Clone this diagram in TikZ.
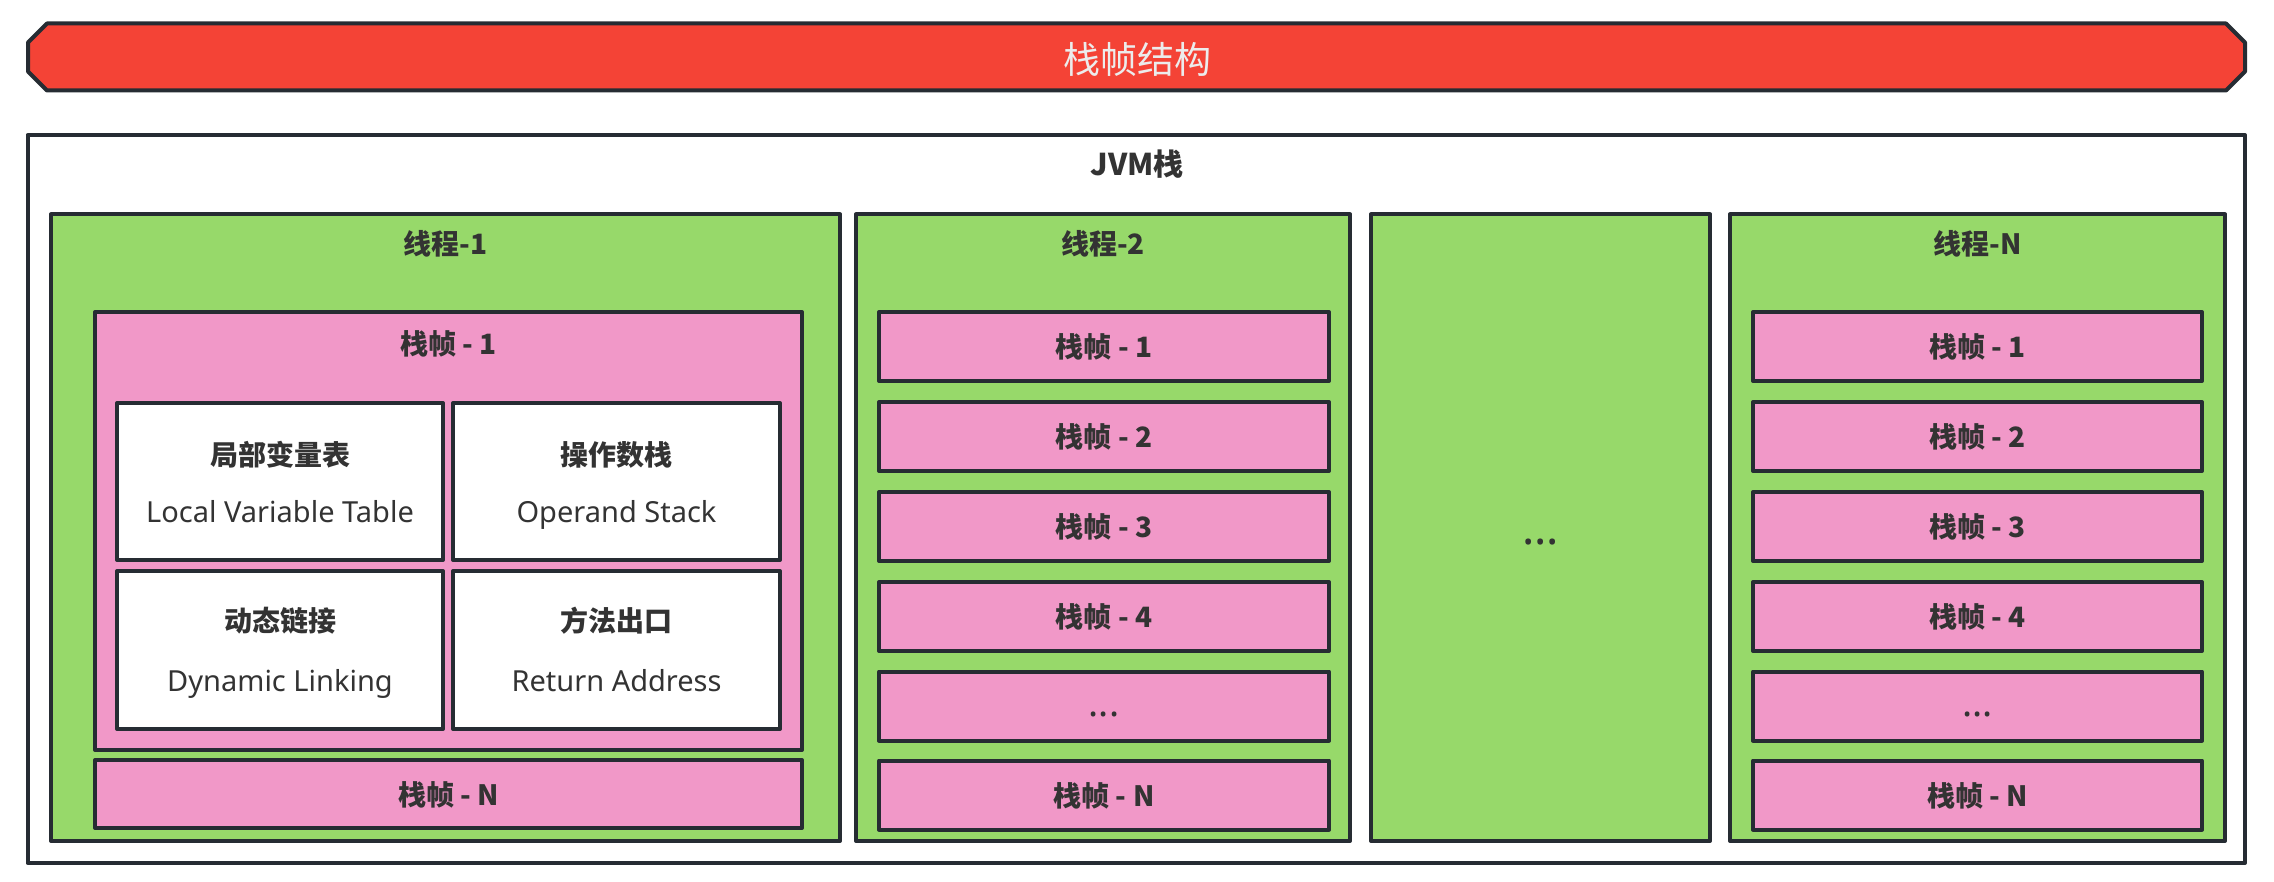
\documentclass[tikz,border=0pt]{standalone}
\usepackage{fontspec}
\setmainfont{Noto Sans CJK SC}
\newfontfamily\latfont{Noto Sans}
\definecolor{edge}{RGB}{38,44,51}
\definecolor{txt}{RGB}{51,51,51}
\definecolor{bannerred}{RGB}{244,67,54}
\definecolor{thrgreen}{RGB}{151,217,106}
\definecolor{frmpink}{RGB}{241,152,200}
\definecolor{titletxt}{RGB}{236,236,236}
\tikzset{
  boxbase/.style={draw=edge, line width=4pt, inner sep=0pt, outer sep=0pt, line join=round},
  jvmbox/.style={boxbase, fill=white},
  thrbox/.style={boxbase, fill=thrgreen},
  frmbox/.style={boxbase, fill=frmpink},
  cellbox/.style={boxbase, fill=white},
  lbl/.style={anchor=base, inner sep=0pt, text=txt, font=\bfseries\fontsize{28}{34}\selectfont},
  entxt/.style={anchor=base, inner sep=0pt, text=txt, font=\latfont\fontsize{29}{34}\selectfont},
  bigdots/.style={anchor=base, inner sep=0pt, text=txt, font=\latfont\bfseries\fontsize{46}{50}\selectfont},
  smalldots/.style={anchor=base, inner sep=0pt, text=txt, font=\latfont\bfseries\fontsize{38}{42}\selectfont},
}
\begin{document}
\begin{tikzpicture}[x=1pt,y=-1pt]
\useasboundingbox (0,0) rectangle (2274,882);
% banner
\draw[draw=edge, line width=4pt, fill=bannerred, line join=round]
  (47,23.5) -- (2226,23.5) -- (2245,42.5) -- (2245,71.5) -- (2226,90.5)
  -- (47,90.5) -- (28,71.5) -- (28,42.5) -- cycle;
\node[anchor=base, inner sep=0pt, text=titletxt, font=\fontsize{37}{42}\selectfont] (title) at (1137,74) {栈帧结构};
% JVM stack
\node[jvmbox, minimum width=2217.5pt, minimum height=728pt] (jvm) at (1136.25,499) {};
\node[lbl, font=\bfseries\fontsize{30}{36}\selectfont] (jvml) at (1137,176) {JVM栈};
% threads
\node[thrbox, minimum width=789pt, minimum height=626.5pt] (t1) at (445.5,527.75) {};
\node[thrbox, minimum width=494pt, minimum height=626.5pt] (t2) at (1103,527.75) {};
\node[thrbox, minimum width=339pt, minimum height=626.5pt] (t3) at (1540.5,527.75) {};
\node[thrbox, minimum width=495pt, minimum height=626.5pt] (tn) at (1977.5,527.75) {};
\node[lbl] (t1l) at (445.5,255) {线程-1};
\node[lbl] (t2l) at (1103,255) {线程-2};
\node[lbl] (tnl) at (1977.5,255) {线程-N};
\node[bigdots] (t3l) at (1540.5,544.5) {...};
% thread 1 frames
\node[frmbox, minimum width=707pt, minimum height=438pt] (f1) at (448.5,531) {};
\node[lbl] (f1l) at (448.5,355) {栈帧 - 1};
\node[cellbox, minimum width=326pt, minimum height=157pt] (c1) at (280,481.5) {};
\node[cellbox, minimum width=327pt, minimum height=157pt] (c2) at (616.5,481.5) {};
\node[cellbox, minimum width=326pt, minimum height=158pt] (c3) at (280,650) {};
\node[cellbox, minimum width=327pt, minimum height=158pt] (c4) at (616.5,650) {};
\node[lbl] (c1a) at (280,465) {局部变量表};
\node[entxt] (c1b) at (280,522) {Local Variable Table};
\node[lbl] (c2a) at (616.5,465) {操作数栈};
\node[entxt] (c2b) at (616.5,522) {Operand Stack};
\node[lbl] (c3a) at (280,631) {动态链接};
\node[entxt] (c3b) at (280,691) {Dynamic Linking};
\node[lbl] (c4a) at (616.5,631) {方法出口};
\node[entxt] (c4b) at (616.5,691) {Return Address};
\node[frmbox, minimum width=707pt, minimum height=68pt] (f1n) at (448.5,794) {};
\node[lbl] (f1nl) at (448.5,805) {栈帧 - N};
% thread 2 frames
\foreach \i/\yy/\t in {1/346.5/栈帧 - 1, 2/436.5/栈帧 - 2, 3/526.5/栈帧 - 3, 4/616.5/栈帧 - 4, 6/795/栈帧 - N}{
  \node[frmbox, minimum width=450pt, minimum height=69pt] (f2\i) at (1104,\yy) {};
  \node[lbl] (f2\i l) at (1104,\yy+11) {\t};
  \node[frmbox, minimum width=449pt, minimum height=69pt] (fn\i) at (1977.5,\yy) {};
  \node[lbl] (fn\i l) at (1977.5,\yy+11) {\t};
}
\node[frmbox, minimum width=450pt, minimum height=69pt] (f25) at (1104,706) {};
\node[smalldots] (f25l) at (1104,716.5) {...};
\node[frmbox, minimum width=449pt, minimum height=69pt] (fn5) at (1977.5,706) {};
\node[smalldots] (fn5l) at (1977.5,716.5) {...};
\end{tikzpicture}
\end{document}
